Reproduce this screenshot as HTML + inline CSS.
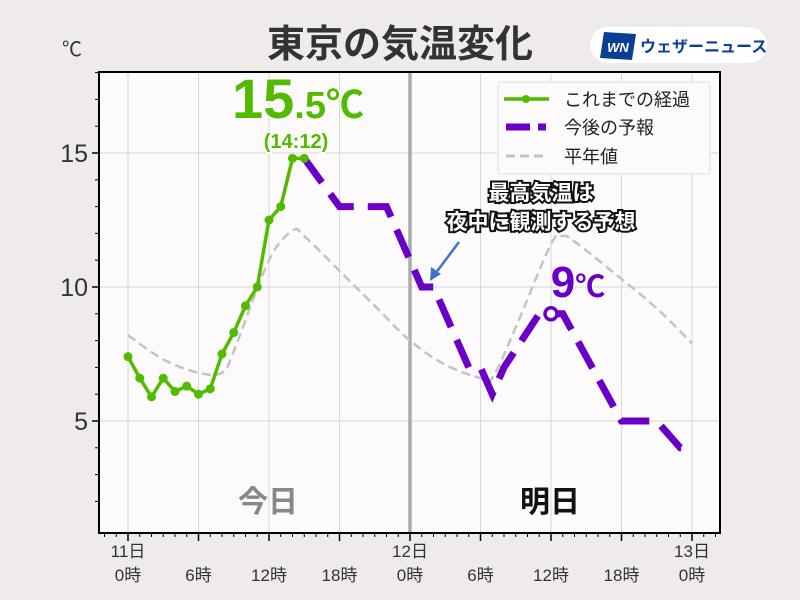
<!DOCTYPE html>
<html><head><meta charset="utf-8"><style>
html,body{margin:0;width:800px;height:600px;background:#eeebea;overflow:hidden;font-family:"Liberation Sans","Noto Sans CJK JP",sans-serif}
svg{display:block}
svg text{font-family:"Liberation Sans","Noto Sans CJK JP",sans-serif}
</style></head><body>
<svg id="chart" width="800" height="600">
<rect x="0" y="0" width="800" height="600" fill="#eeebea"/>
<text x="400" y="57" text-anchor="middle" font-size="38" font-weight="bold" fill="#333">東京の気温変化</text>
<g>
<rect x="590" y="27" width="177" height="36" rx="18" fill="#fff"/>
<polygon points="604,32 636,34 632,60 600,58" fill="#0b3f95"/>
<text x="618" y="52" text-anchor="middle" font-size="13" font-weight="bold" font-style="italic" fill="#fff">WN</text>
<text x="640" y="52" font-size="16" font-weight="bold" fill="#0b3f95">ウェザーニュース</text>
</g>
<text x="62" y="56" font-size="20" fill="#333">℃</text>
<rect x="99" y="72" width="621" height="461" fill="#fcfafb"/>
<g id="grid"></g>
<g id="series"></g>
<rect x="99" y="72" width="621" height="461" fill="none" stroke="#000" stroke-width="2"/>
<g id="axes"></g>
<text x="268" y="512" text-anchor="middle" font-size="30" font-weight="bold" fill="#888">今日</text>
<text x="550" y="512" text-anchor="middle" font-size="30" font-weight="bold" fill="#111">明日</text>
<g fill="#52bb00" font-weight="bold" stroke="#fff" stroke-width="3" paint-order="stroke">
<text x="298" y="118" text-anchor="middle"><tspan font-size="56">15</tspan><tspan font-size="38">.5℃</tspan></text>
<text x="296" y="148" text-anchor="middle" font-size="20">(14:12)</text>
</g>
<text x="578" y="297" text-anchor="middle" font-size="44" font-weight="bold" fill="#6a00c8" stroke="#fff" stroke-width="3" paint-order="stroke">9<tspan font-size="30">℃</tspan></text>
<g font-size="21" font-weight="bold" fill="#fff" stroke="#111" stroke-width="4" paint-order="stroke" text-anchor="middle">
<text x="541" y="200">最高気温は</text>
<text x="541" y="229">夜中に観測する予想</text>
</g>
<g>
<line x1="459" y1="242" x2="435" y2="274" stroke="#3f74c7" stroke-width="2.5"/>
<polygon points="430,281 431,267 441,274" fill="#3f74c7"/>
</g>
<g>
<rect x="498" y="82" width="212" height="92" rx="3" fill="#fcfafb" stroke="#ddd"/>
<line x1="504" y1="99" x2="549" y2="99" stroke="#52bb00" stroke-width="3.5"/>
<circle cx="526" cy="99" r="4" fill="#52bb00"/>
<text x="564" y="106" font-size="18" fill="#222">これまでの経過</text>
<line x1="506" y1="127" x2="530" y2="127" stroke="#6a00c8" stroke-width="7"/>
<line x1="538" y1="127" x2="546" y2="127" stroke="#6a00c8" stroke-width="7"/>
<text x="564" y="134" font-size="18" fill="#222">今後の予報</text>
<line x1="506" y1="156" x2="548" y2="156" stroke="#c4c4c4" stroke-width="3" stroke-dasharray="9,5"/>
<text x="564" y="163" font-size="18" fill="#222">平年値</text>
</g>
</svg>
<script>
const observedHours=[0,1,2,3,4,5,6,7,8,9,10,11,12,13,14,15];
const observedTemps=[7.4,6.6,5.9,6.6,6.1,6.3,6.0,6.2,7.5,8.3,9.3,10.0,12.5,13.0,14.8,14.8];
const forecastHours=[15,18,22,25,26,29,30,31,32,35,36,37,42,45,47,48];
const forecastTemps=[14.8,13,13,10,10,7,7,6,7,9,9,9,5,5,4,4];
const normalHours=[0,3,6,8,9,12,14,15,18,21,24,27,30,31,33,36,37,38,42,45,48];
const normalTemps=[8.2,7.3,6.8,6.8,7.6,11.0,12.1,11.9,10.6,9.3,8.0,7.1,6.6,6.6,8.5,11.6,11.9,11.7,10.3,9.2,7.9];
const yTicks=[5,10,15];
const xTickLabels=[["11日","0時"],["","6時"],["","12時"],["","18時"],["12日","0時"],["","6時"],["","12時"],["","18時"],["13日","0時"]];
const X=h=>128+h*11.75, Y=v=>555-v*26.8;
const NS="http://www.w3.org/2000/svg";
function mk(tag,attrs,parent){const e=document.createElementNS(NS,tag);for(const k in attrs)e.setAttribute(k,attrs[k]);parent.appendChild(e);return e;}
const grid=document.getElementById('grid'),ser=document.getElementById('series'),ax=document.getElementById('axes');
yTicks.forEach(v=>{const l=mk('line',{x1:99,x2:720,y1:Y(v),y2:Y(v),stroke:'#d8d8d8','stroke-width':1},grid);


const t=mk('text',{x:88,y:Y(v)+9,'text-anchor':'end','font-size':25,fill:'#333'},ax);t.textContent=v;


mk('line',{x1:92,x2:99,y1:Y(v),y2:Y(v),stroke:'#000','stroke-width':1.5},ax);});
for(let v=2;v<=18;v++){if(v%5)mk('line',{x1:95,x2:99,y1:Y(v),y2:Y(v),stroke:'#000','stroke-width':1},ax);}
xTickLabels.forEach((lb,i)=>{const h=i*6;
if(h!==24){const l=mk('line',{x1:X(h),x2:X(h),y1:72,y2:533,stroke:'#d8d8d8','stroke-width':1},grid);

}
mk('line',{x1:X(h),x2:X(h),y1:533,y2:541,stroke:'#000','stroke-width':1.5},ax);
const t=mk('text',{x:X(h),y:557,'text-anchor':'middle','font-size':17,fill:'#333'},ax);t.textContent=lb[0];


const t2=mk('text',{x:X(h),y:581,'text-anchor':'middle','font-size':17,fill:'#333'},ax);t2.textContent=lb[1];

});
for(let h=-2;h<=50;h++){if(h%6)mk('line',{x1:X(h),x2:X(h),y1:533,y2:537,stroke:'#000','stroke-width':1},ax);}
const div=mk('line',{x1:X(24),x2:X(24),y1:72,y2:533,stroke:'#aaa','stroke-width':3.5},grid);


const np=normalHours.map((h,i)=>[X(h),Y(normalTemps[i])]);
let d='M'+np[0][0]+','+np[0][1];
for(let i=0;i<np.length-1;i++){const p0=np[i-1]||np[i],p1=np[i],p2=np[i+1],p3=np[i+2]||p2;
d+=` C${p1[0]+(p2[0]-p0[0])/6},${p1[1]+(p2[1]-p0[1])/6} ${p2[0]-(p3[0]-p1[0])/6},${p2[1]-(p3[1]-p1[1])/6} ${p2[0]},${p2[1]}`;}
const nl=mk('path',{d:d,fill:'none',stroke:'#c4c4c4','stroke-width':2.5,'stroke-dasharray':'9,5'},ser);


const fl=mk('polyline',{points:forecastHours.map((h,i)=>X(h)+','+Y(forecastTemps[i])).join(' '),fill:'none',stroke:'#6a00c8','stroke-width':7,'stroke-dasharray':'30,14'},ser);


const ol=mk('polyline',{points:observedHours.map((h,i)=>X(h)+','+Y(observedTemps[i])).join(' '),fill:'none',stroke:'#52bb00','stroke-width':3.5,'stroke-linejoin':'round'},ser);


observedHours.forEach((h,i)=>{const c=mk('circle',{cx:X(h),cy:Y(observedTemps[i]),r:4.5,fill:'#52bb00'},ser);

});
const mi=forecastHours.indexOf(36);
const mc=mk('circle',{cx:X(36),cy:Y(forecastTemps[mi]),r:6,fill:'#fff',stroke:'#6a00c8','stroke-width':3.5},ser);


</script>
</body></html>
